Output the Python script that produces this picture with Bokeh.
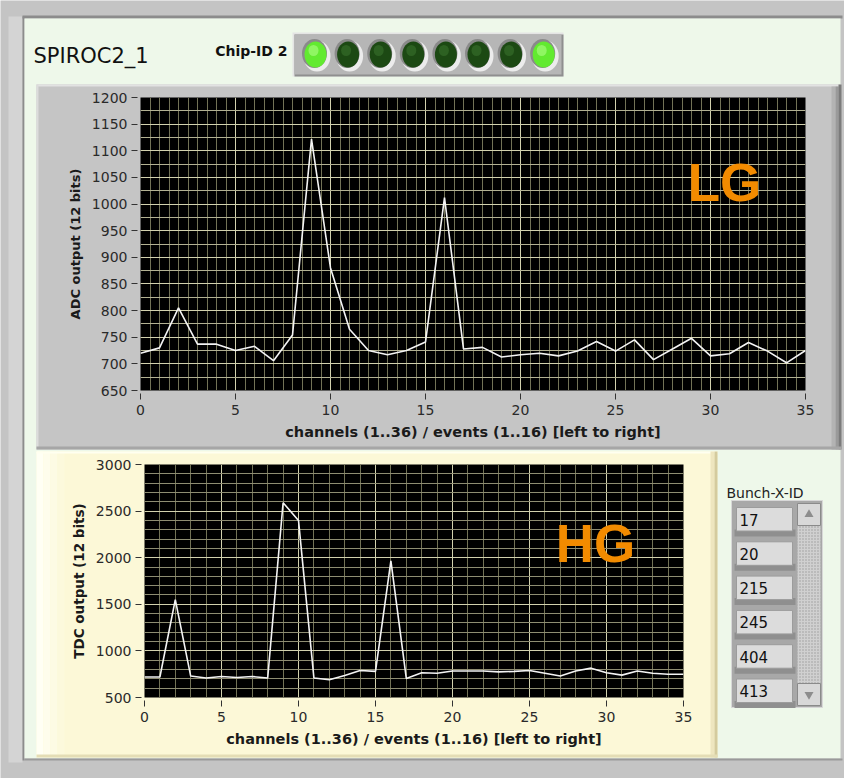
from bokeh.plotting import figure
from bokeh.layouts import column
from bokeh.models import Range1d, SingleIntervalTicker, Label
from bokeh.embed import file_html
from bokeh.resources import INLINE

# ---- data -------------------------------------------------------------
channels = list(range(36))
lg_adc = [720, 730, 805, 737, 737, 725, 733, 706, 754, 1122, 880, 765,
          725, 717, 725, 741, 1012, 728, 731, 713, 717, 720, 715, 724,
          742, 724, 745, 708, 728, 748, 715, 719, 740, 724, 702, 725]
hg_tdc = [720, 720, 1550, 730, 710, 725, 715, 725, 710, 2590, 2400, 710,
          690, 735, 790, 780, 1965, 705, 765, 760, 785, 785, 785, 775,
          780, 790, 760, 730, 785, 815, 765, 740, 785, 760, 750, 750]
chip_id_leds = [1, 0, 0, 0, 0, 0, 0, 1]
bunch_x_ids = [17, 20, 215, 245, 404, 413]

lg_ticks_x = 5
lg_ticks_y = 50
hg_ticks_x = 5
hg_ticks_y = 500

W, H = 844, 778
PANEL_GREEN = "#eef8ea"
GRAY = "#c5c5c5"

# ---- front-panel background (pixel coordinates, y downwards) ----------
bg = figure(width=W, height=H, x_range=Range1d(0, W), y_range=Range1d(H, 0),
            output_backend="svg", toolbar_location=None, min_border=0,
            x_axis_location=None, y_axis_location=None, frame_align=False,
            outline_line_color=None, background_fill_color="#c4c4c4",
            border_fill_color="#c4c4c4")
bg.grid.visible = False

def box(l, r, t, b, color, **kw):
    bg.quad(left=l, right=r, top=t, bottom=b, fill_color=color,
            line_color=kw.pop("line_color", None), **kw)

# window frame
box(8, 22, 16, 762, "#d4d4d4")
box(22, 24, 16, 760, "#8c8c8c")
box(22, 842, 15, 18, "#8c8c8c")
box(24, 840, 18, 758, PANEL_GREEN)
box(24, 842, 758, 760, "#9a9a9a")

# header
bg.text(x=[33], y=[55], text=["SPIROC2_1"], text_font_size="21px",
        text_font={"value": "DejaVu Sans"}, text_color="#111111",
        text_baseline="alphabetic")
bg.text(x=[287], y=[50], text=["Chip-ID 2"], text_font_size="14px",
        text_font={"value": "DejaVu Sans"}, text_font_style="bold",
        text_color="#111111", text_align="right", text_baseline="alphabetic")

box(292, 563, 32, 76, "#e4e4e4")
box(294, 563, 34, 76, "#8f8f8f")
box(294, 561, 34, 74, "#b6b6b6")
led_x = [315 + i * 32.6 for i in range(len(chip_id_leds))]
led_y = [54] * len(chip_id_leds)
on_col = ["#62ea30" if s else "#1c4913" for s in chip_id_leds]
hi_col = ["#b4ff8c" if s else "#3d7430" for s in chip_id_leds]
bg.ellipse(x=[x + 1.5 for x in led_x], y=[y + 1.5 for y in led_y], width=27,
           height=31, fill_color="#ececec", line_color=None)
bg.ellipse(x=[x - 1 for x in led_x], y=[y - 1 for y in led_y], width=25,
           height=29, fill_color="#8a8a8a", line_color=None)
bg.ellipse(x=led_x, y=led_y, width=22, height=26, fill_color=on_col,
           line_color=None)
bg.ellipse(x=[x - 2 for x in led_x], y=[y - 4 for y in led_y], width=10,
           height=11, fill_color=hi_col, fill_alpha=0.55, line_color=None)

# LG panel (grey, bevelled)
box(36, 840, 84, 449, GRAY)
box(36, 840, 84, 86, "#e2e2e2")
box(36, 38, 84, 449, "#dcdcdc")
box(831, 835, 86, 449, "#b3b3b3")
box(835, 838, 86, 449, "#9a9a9a")
box(838, 841, 84, 449, "#7b7b7b")
box(36, 841, 446, 449, "#a6a6a6")

# HG panel (pale yellow)
box(36, 717, 451, 757, "#fcf8d7")
for i, c in enumerate(["#fffff4", "#fefdec", "#fdfbe4", "#fcf9dc"]):
    box(36 + i * 7, 43 + i * 7, 451, 757, c)
box(36, 717, 451, 453, "#fffff0")
box(710, 714, 451, 757, "#eee6bf")
box(714, 717, 451, 757, "#d4cb9e")
box(36, 717, 754, 757, "#e4ddb5")

# Bunch-X-ID list box
bg.text(x=[726], y=[492], text=["Bunch-X-ID"], text_font_size="14px",
        text_font={"value": "DejaVu Sans"}, text_color="#222222",
        text_baseline="alphabetic")
box(731, 822, 500, 707, "#a8a8a8", line_color="#d8d8d8")
item_top = [507 + i * 34.3 for i in range(len(bunch_x_ids))]
bg.quad(left=734, right=795, top=[t + 22 for t in item_top],
        bottom=[t + 29 for t in item_top], fill_color="#8f8f8f", line_color=None)
bg.quad(left=736, right=792, top=item_top, bottom=[t + 23.5 for t in item_top],
        fill_color="#dcdcdc", line_color="#9c9c9c")
bg.text(x=[739] * len(bunch_x_ids), y=[t + 12 for t in item_top],
        text=[str(v) for v in bunch_x_ids], text_font_size="15px",
        text_font={"value": "DejaVu Sans"}, text_color="#111111",
        text_baseline="middle")
box(797, 820, 503, 705, "#d0d0d0", hatch_pattern="dot", hatch_color="#9a9a9a",
    hatch_scale=3)
box(797, 820, 503, 525, "#d8d8d8", line_color="#8a8a8a")
box(797, 820, 683, 705, "#d8d8d8", line_color="#8a8a8a")
bg.scatter(x=[808.5], y=[514], marker="triangle", size=9, fill_color="#8d8d8d",
           line_color=None)
bg.scatter(x=[808.5], y=[694], marker="inverted_triangle", size=9,
           fill_color="#8d8d8d", line_color=None)


# ---- graphs -----------------------------------------------------------
def graph(width, height, yr, borders, left, top):
    l, r, t, b = borders
    p = figure(width=width, height=height, x_range=Range1d(0, 35), y_range=yr,
               output_backend="svg", toolbar_location=None, frame_align=False,
               min_border_left=l, min_border_right=r, min_border_top=t,
               min_border_bottom=b, background_fill_color="#000000",
               border_fill_color="#ffffff", border_fill_alpha=0.0,
               outline_line_color=None)
    p.styles = {"position": "absolute", "left": f"{left}px", "top": f"{top}px"}
    return p


def style(p, xint, xminor, yint, yminor, xlabel, ylabel, ysize, xsize,
          ystandoff, xstandoff, yminor_color):
    xt = SingleIntervalTicker(interval=xint, num_minor_ticks=xminor)
    yt = SingleIntervalTicker(interval=yint, num_minor_ticks=yminor)
    p.xaxis.ticker = xt
    p.yaxis.ticker = yt
    p.xgrid.ticker = xt
    p.ygrid.ticker = yt
    for ax in (p.xaxis, p.yaxis):
        ax.axis_line_color = None
        ax.major_tick_line_color = "#333333"
        ax.major_tick_in = -3
        ax.major_tick_out = 9
        ax.minor_tick_in = 0
        ax.minor_tick_out = 0
        ax.major_label_text_font = "DejaVu Sans"
        ax.major_label_text_font_size = "14px"
        ax.major_label_text_color = "#2a2a2a"
        ax.axis_label_text_font = "DejaVu Sans"
        ax.axis_label_text_font_style = "bold"
        ax.axis_label_text_color = "#1a1a1a"
    p.yaxis.major_label_standoff = 4
    p.xaxis.major_label_standoff = 5
    p.xaxis.axis_label = xlabel
    p.yaxis.axis_label = ylabel
    p.yaxis.axis_label_text_font_size = ysize
    p.xaxis.axis_label_text_font_size = xsize
    p.yaxis.axis_label_standoff = ystandoff
    p.xaxis.axis_label_standoff = xstandoff
    for g in (p.xgrid, p.ygrid):
        g.grid_line_color = "#d2d1ae"
        g.grid_line_width = 1
    p.xgrid.minor_grid_line_color = "#727256"
    p.ygrid.minor_grid_line_color = yminor_color


xlab = "channels (1..36) / events (1..16) [left to right]"

lg = graph(802, 362, Range1d(650, 1200), (102, 35, 11, 58), 38, 86)
style(lg, lg_ticks_x, 10, lg_ticks_y, 2, xlab, "ADC output (12 bits)",
      "13px", "14.5px", 6, 6, "#b3b293")
lg.line(channels, lg_adc, line_color="#f4f4f4", line_width=1.6)
lg.add_layout(Label(x=28.8, y=1040, text="LG", text_font="Liberation Sans",
                    text_font_style="bold", text_font_size="53px",
                    text_color="#f28b00", text_baseline="alphabetic"))

hg = graph(677, 304, Range1d(500, 3000), (106, 32, 12, 59), 38, 452)
style(hg, hg_ticks_x, 5, hg_ticks_y, 5, xlab, "TDC output (12 bits)",
      "13.5px", "14.5px", 6, 6, "#8e8d72")
hg.line(channels, hg_tdc, line_color="#f4f4f4", line_width=1.6)
hg.add_layout(Label(x=26.7, y=2150, text="HG", text_font="Liberation Sans",
                    text_font_style="bold", text_font_size="53px",
                    text_color="#f28b00", text_baseline="alphabetic"))

p = column(bg, lg, hg, spacing=0)
open("out.html", "w").write(file_html(p, INLINE))
